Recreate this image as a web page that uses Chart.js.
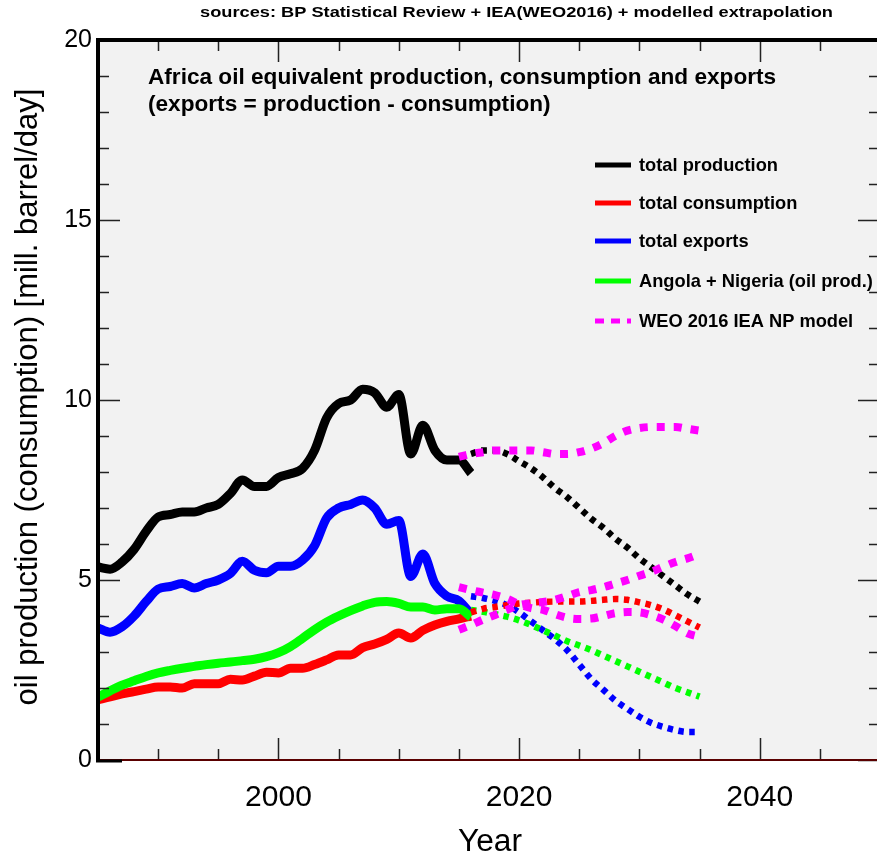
<!DOCTYPE html>
<html><head><meta charset="utf-8">
<script src="https://cdn.jsdelivr.net/npm/chart.js@4/dist/chart.umd.min.js"></script>
<style>html,body{margin:0;padding:0;overflow:hidden;background:#fff}
#wrap{position:relative;width:900px;height:856px}</style>
</head><body><div id="wrap"><canvas id="c" width="900" height="856" style="width:900px;height:856px"></canvas></div>
<script>
// ---- data ----
const histYears = [1985,1986,1987,1988,1989,1990,1991,1992,1993,1994,1995,1996,1997,1998,1999,2000,2001,2002,2003,2004,2005,2006,2007,2008,2009,2010,2011,2012,2013,2014,2015,2016];
const totalProduction = [5.36,5.30,5.50,5.85,6.35,6.75,6.82,6.89,6.89,7.00,7.10,7.40,7.78,7.60,7.60,7.85,7.95,8.10,8.60,9.50,9.90,10.00,10.30,10.20,9.80,10.15,8.50,9.30,8.60,8.33,8.33,7.97];
const totalConsumption = [1.67,1.75,1.84,1.90,1.97,2.03,2.03,2.00,2.12,2.12,2.12,2.24,2.22,2.33,2.44,2.42,2.55,2.55,2.65,2.78,2.92,2.92,3.12,3.22,3.35,3.53,3.39,3.60,3.75,3.85,3.92,4.00];
const totalExports = [3.67,3.55,3.70,4.00,4.40,4.75,4.82,4.90,4.78,4.90,5.00,5.18,5.52,5.27,5.20,5.38,5.38,5.55,5.95,6.72,7.00,7.10,7.22,7.00,6.55,6.65,5.10,5.72,4.90,4.55,4.42,4.05];
const angolaNigeria = [1.75,1.92,2.08,2.20,2.32,2.42,2.49,2.55,2.60,2.65,2.69,2.72,2.76,2.80,2.87,2.98,3.15,3.38,3.62,3.83,4.00,4.15,4.28,4.38,4.40,4.35,4.25,4.25,4.17,4.20,4.20,3.97];

const projYears = [2016,2017,2018,2019,2020,2021,2022,2023,2024,2025,2026,2027,2028,2029,2030,2031,2032,2033,2034,2035];
const projProduction = [8.50,8.60,8.60,8.50,8.30,8.10,7.85,7.55,7.30,7.00,6.70,6.45,6.15,5.90,5.60,5.35,5.10,4.85,4.60,4.40];
const projConsumption = [4.10,4.20,4.25,4.30,4.35,4.37,4.39,4.40,4.40,4.40,4.42,4.45,4.47,4.45,4.38,4.30,4.18,4.02,3.85,3.68];
const projExports = [4.55,4.50,4.42,4.30,4.10,3.85,3.60,3.35,3.05,2.65,2.25,1.95,1.65,1.42,1.20,1.03,0.92,0.83,0.78,0.78];
const projAngolaNigeria = [4.17,4.12,4.05,3.98,3.88,3.75,3.60,3.45,3.30,3.18,3.05,2.90,2.75,2.60,2.45,2.30,2.15,2.00,1.88,1.76];

const weoYears = [2015,2016,2017,2018,2019,2020,2021,2022,2023,2024,2025,2026,2027,2028,2029,2030,2031,2032,2033,2034,2035];
const weoProduction = [8.42,8.50,8.55,8.60,8.60,8.60,8.60,8.55,8.50,8.50,8.55,8.65,8.80,9.00,9.15,9.22,9.25,9.25,9.25,9.20,9.15];
const weoConsumption = [3.62,3.75,3.90,4.03,4.17,4.30,4.35,4.39,4.45,4.55,4.66,4.72,4.80,4.90,5.00,5.12,5.23,5.37,5.50,5.60,5.72];
const weoExports = [4.80,4.72,4.65,4.58,4.48,4.33,4.22,4.17,4.05,3.95,3.92,3.93,4.00,4.08,4.11,4.10,4.02,3.90,3.72,3.52,3.42];

const xTickLabels = [2000, 2020, 2040];
const yTickLabels = [0, 5, 10, 15, 20];

const legendLabels = ['total production','total consumption','total exports','Angola + Nigeria (oil prod.)','WEO 2016 IEA NP model'];
const legendColors = ['#000000','#ff0000','#0000ff','#00ff00','#ff00ff'];

// ---- helpers ----
const zip = (xs, ys) => xs.map((x, i) => ({x: x, y: ys[i]}));
const solid = (data, color) => ({data, borderColor: color, borderWidth: 9, pointRadius: 0, fill: false, cubicInterpolationMode: 'monotone', borderCapStyle: 'butt', borderJoinStyle: 'round'});
const dotted = (data, color, w, dash) => ({data, borderColor: color, borderWidth: w, borderDash: dash, pointRadius: 0, fill: false, cubicInterpolationMode: 'monotone', borderCapStyle: 'butt'});

const datasets = [
  dotted(zip(weoYears, weoProduction), '#ff00ff', 8, [8, 9]),
  dotted(zip(weoYears, weoConsumption), '#ff00ff', 8, [8, 9]),
  dotted(zip(weoYears, weoExports), '#ff00ff', 8, [8, 9]),
  dotted(zip(projYears, projProduction), '#000000', 6.5, [5.5, 5.5]),
  dotted(zip(projYears, projConsumption), '#ff0000', 6.5, [5.5, 5.5]),
  dotted(zip(projYears, projAngolaNigeria), '#00ff00', 6.5, [5.5, 5.5]),
  dotted(zip(projYears, projExports), '#0000ff', 6.5, [5.5, 5.5]),
  solid(zip(histYears, angolaNigeria), '#00ff00'),
  solid(zip(histYears, totalConsumption), '#ff0000'),
  solid(zip(histYears, totalExports), '#0000ff'),
  solid(zip(histYears, totalProduction), '#000000')
];

const FONT = 'Arial, "Liberation Sans", Helvetica, sans-serif';

function fitText(ctx, text, weight, family, targetW) {
  ctx.font = weight + ' 20px ' + family;
  const w = ctx.measureText(text).width;
  return 20 * targetW / w;
}

const deco = {
  id: 'deco',
  beforeDraw(chart) {
    const {ctx, chartArea: a} = chart;
    ctx.save();
    ctx.fillStyle = '#f2f2f2';
    ctx.fillRect(a.left, a.top, a.right - a.left, a.bottom - a.top);
    ctx.restore();
  },
  afterDatasetsDraw(chart) {
    const {ctx, chartArea: a, scales: {x, y}} = chart;
    ctx.save();
    ctx.strokeStyle = '#222';
    ctx.lineWidth = 1.5;
    for (let v = 1985; v <= 2050; v += 5) {
      const px = Math.round(x.getPixelForValue(v)) + 0.5;
      const len = (v % 20 === 0) ? 22 : 11;
      ctx.beginPath();
      ctx.moveTo(px, a.bottom); ctx.lineTo(px, a.bottom - len);
      ctx.moveTo(px, a.top); ctx.lineTo(px, a.top + len);
      ctx.stroke();
    }
    for (let v = 0; v <= 20; v += 1) {
      const py = Math.round(y.getPixelForValue(v)) + 0.5;
      const len = (v % 5 === 0) ? 22 : 11;
      ctx.beginPath();
      ctx.moveTo(a.left, py); ctx.lineTo(a.left + len, py);
      ctx.moveTo(a.right, py); ctx.lineTo(a.right - len, py);
      ctx.stroke();
    }
    ctx.strokeStyle = '#5a0000';
    ctx.lineWidth = 2;
    ctx.beginPath(); ctx.moveTo(a.left, a.bottom); ctx.lineTo(a.right, a.bottom); ctx.stroke();
    ctx.strokeStyle = '#000';
    ctx.lineWidth = 4;
    ctx.beginPath();
    ctx.moveTo(a.left, a.top); ctx.lineTo(a.left, a.bottom);
    ctx.moveTo(a.left - 2, a.top); ctx.lineTo(a.right, a.top);
    ctx.moveTo(a.right, a.top); ctx.lineTo(a.right, a.bottom);
    ctx.stroke();
    ctx.lineWidth = 3;
    ctx.beginPath(); ctx.moveTo(a.left - 2, a.bottom + 1); ctx.lineTo(a.left + 24, a.bottom + 1); ctx.stroke();
    ctx.restore();
  },
  afterDraw(chart) {
    const {ctx} = chart;
    ctx.save();
    ctx.fillStyle = '#000';
    ctx.textBaseline = 'middle';
    ctx.font = 'bold 15px "Liberation Sans Narrow", ' + FONT;
    const src = 'sources: BP Statistical Review + IEA(WEO2016) + modelled extrapolation';
    const w = ctx.measureText(src).width;
    ctx.save();
    ctx.translate(200, 13);
    ctx.scale(633 / w, 1);
    ctx.textAlign = 'left';
    ctx.fillText(src, 0, 0);
    ctx.restore();
    ctx.textAlign = 'left';
    const t1 = 'Africa oil equivalent production, consumption and exports';
    const ts = fitText(ctx, t1, 'bold', FONT, 628);
    ctx.font = 'bold ' + ts.toFixed(2) + 'px ' + FONT;
    ctx.fillText(t1, 148, 78);
    ctx.fillText('(exports = production - consumption)', 148, 105);
    const yl = 'oil production (consumption) [mill. barrel/day]';
    const ys = fitText(ctx, yl, 'normal', FONT, 617);
    ctx.font = ys.toFixed(2) + 'px ' + FONT;
    ctx.textAlign = 'center';
    ctx.save();
    ctx.translate(28, 397);
    ctx.rotate(-Math.PI / 2);
    ctx.fillText(yl, 0, 0);
    ctx.restore();
    const xs = fitText(ctx, 'Year', 'normal', FONT, 64);
    ctx.font = xs.toFixed(2) + 'px ' + FONT;
    ctx.fillText('Year', 490, 842);
    const ly = [165, 203, 241, 281, 321];
    const lsz = fitText(ctx, legendLabels[3], 'bold', FONT, 234);
    ctx.font = 'bold ' + lsz.toFixed(2) + 'px ' + FONT;
    ctx.textAlign = 'left';
    for (let i = 0; i < legendLabels.length; i++) {
      ctx.strokeStyle = legendColors[i];
      ctx.lineWidth = 5;
      ctx.lineCap = 'butt';
      ctx.setLineDash(i === 4 ? [9, 7] : []);
      ctx.beginPath(); ctx.moveTo(595, ly[i]); ctx.lineTo(631, ly[i]); ctx.stroke();
      ctx.setLineDash([]);
      ctx.fillStyle = '#000';
      ctx.fillText(legendLabels[i], 639, ly[i] + 1);
    }
    ctx.restore();
  }
};

new Chart(document.getElementById('c'), {
  type: 'line',
  data: {datasets},
  options: {
    responsive: false,
    animation: false,
    devicePixelRatio: 1,
    layout: {padding: {top: 40, right: 15, left: 0, bottom: 0}},
    plugins: {legend: {display: false}, tooltip: {enabled: false}, title: {display: false}},
    scales: {
      x: {
        type: 'linear', min: 1985, max: 2050,
        grid: {display: false, drawTicks: false}, border: {display: false},
        ticks: {
          stepSize: 5, autoSkip: false, maxRotation: 0, padding: 20,
          color: '#000', font: {size: 30, family: FONT},
          callback: v => xTickLabels.includes(v) ? String(v) : ''
        },
        afterFit: s => { s.height = 96; }
      },
      y: {
        min: 0, max: 20,
        grid: {display: false, drawTicks: false}, border: {display: false},
        ticks: {
          stepSize: 1, autoSkip: false, padding: 6,
          color: '#000', font: {size: 25, family: FONT},
          callback: v => yTickLabels.includes(v) ? String(v) : ''
        },
        afterFit: s => { s.width = 98; }
      }
    }
  },
  plugins: [deco]
});
</script>
</body></html>
